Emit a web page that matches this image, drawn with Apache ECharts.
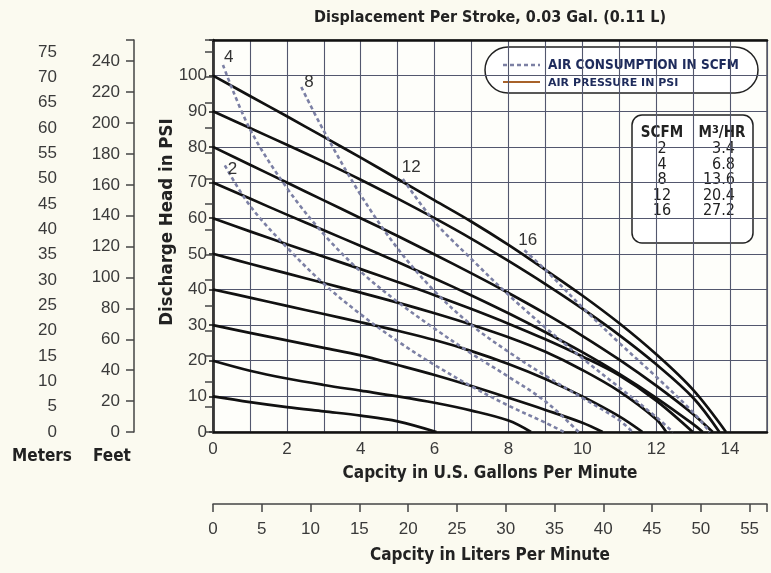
<!DOCTYPE html>
<html lang="en">
<head>
	<meta charset="UTF-8">
	<title>pump curve</title>
	<style type="text/css">
	body,html{
	width: 100%;
	height: 100%;
	margin: 0;
	padding: 0;
	background-color: #fbfaf0;
	}
	#container{
		width: 771px;
		height: 573px;
	}
	</style>
</head>
<body>
	<div id="container"></div>
<script type="text/javascript" src="https://cdn.jsdelivr.net/npm/echarts@6/dist/echarts.min.js"></script>
<script type="text/javascript">
	// air pressure curves, [gpm, psi]
	var psi10 = [[0,10],[1,8.4],[2,7],[3,5.8],[4,4.6],[5,3],[6.05,0]];
	var psi20 = [[0,20],[1,17.2],[2,15],[3,13.2],[4,11.6],[5,10],[6,8.2],[7,6],[8,3.2],[8.61,0]];
	var psi30 = [[0,30],[1,27.8],[2,25.7],[3,23.6],[4,21.5],[5,18.8],[6,16],[7,12.9],[8,9.6],[9,6.2],[10,2.6],[10.55,0]];
	var psi40 = [[0,40],[1,37.7],[2,35.4],[3,33.1],[4,30.8],[5,28.4],[6,25.8],[7,22.7],[8,19.1],[9,14.9],[10,10],[11,4.4],[11.63,0]];
	var psi50 = [[0,50],[1,47.2],[2,44.5],[3,41.8],[4,39.1],[5,36.3],[6,33.3],[7,30.1],[8,26.6],[9,22.5],[10,17.4],[11,11.4],[12,3.6],[12.27,0]];
	var psi60 = [[0,60],[1,56.3],[2,52.7],[3,49.2],[4,45.7],[5,42.1],[6,38.4],[7,34.5],[8,30.4],[9,26],[10,21.2],[11,15.9],[12,8.8],[12.99,0]];
	var psi70 = [[0,70],[1,65.5],[2,61],[3,56.6],[4,52.2],[5,47.7],[6,43.1],[7,38.3],[8,33.3],[9,28],[10,22.4],[11,16.3],[12,9.6],[13,2.2],[13.26,0]];
	var psi80 = [[0,80],[1,75],[2,70],[3,65],[4,60],[5,55],[6,49.8],[7,44.5],[8,39],[9,33.2],[10,27],[11,20.3],[12,13],[13,5],[13.53,0]];
	var psi90 = [[0,90],[1,85.3],[2,80.6],[3,75.8],[4,70.8],[5,65.5],[6,60],[7,54.2],[8,48],[9,41.5],[10,34.6],[11,27.2],[12,19],[13,9.6],[13.71,0]];
	var psi100 = [[0,100],[1,94.3],[2,88.6],[3,82.8],[4,77],[5,71],[6,65],[7,59],[8,52.5],[9,45.5],[10,38.3],[11,30.5],[12,21.8],[13,11.8],[13.89,0]];

	// air consumption curves, [gpm, psi]
	var scfm2 = [[0.32,74.8],[1,63.5],[2,51.8],[3,41.6],[4,33],[5,25.5],[6,18.8],[7,12.8],[8,7.4],[9,2.6],[9.5,0]];
	var scfm4 = [[0.27,103],[1,85],[2,68.5],[3,55.5],[4,45],[5,36.5],[6,29],[7,22],[8,15.5],[9,8.6],[9.9,0]];
	var scfm8 = [[2.39,96.8],[3,84.5],[4,66.5],[5,51.5],[6,39.5],[7,30],[8,22.5],[9,15.8],[10,9.6],[11,3.3],[11.36,0]];
	var scfm12 = [[5.14,71],[6,59],[7,48.5],[8,38.5],[9,29.3],[10,20.7],[11,12.5],[12,4.2],[12.45,0]];
	var scfm16 = [[8.43,51],[9,45.5],[10,35],[11,25],[12,15.5],[13,5.5],[13.45,0]];

	// conversion table
	var scfmList = ['2', '4', '8', '12', '16'];
	var m3hrList = ['3.4', '6.8', '13.6', '20.4', '27.2'];

	var gpmMax = 15, psiMax = 110;
	var M_PER_PSI = 0.70307, FT_PER_PSI = 2.3067, L_PER_GAL = 3.78541;

	var narrow = '"Liberation Sans Narrow", "DejaVu Sans Condensed", sans-serif';
	var plain = '"Liberation Sans", Arial, sans-serif';
	var gridColor = '#53576e';

	var pressureCurves = [psi10, psi20, psi30, psi40, psi50, psi60, psi70, psi80, psi90, psi100];
	var airCurves = [
		{name: '2', data: scfm2, offset: [0, 4]},
		{name: '4', data: scfm4, offset: [-2, -8]},
		{name: '8', data: scfm8, offset: [0, -5]},
		{name: '12', data: scfm12, offset: [-4, -12]},
		{name: '16', data: scfm16, offset: [-9, -10]}
	];

	var series = [];
	pressureCurves.forEach(function (d, i) {
		series.push({
			type: 'line', name: 'p' + (i + 1) * 10, data: d,
			smooth: 0.35, showSymbol: false, silent: true,
			lineStyle: {color: '#111', width: 2.7},
			z: 3
		});
	});
	airCurves.forEach(function (c) {
		series.push({
			type: 'line', name: 's' + c.name, smooth: 0.35, silent: true,
			showSymbol: true, symbol: 'circle', symbolSize: 0,
			data: c.data.map(function (p, i) {
				if (i > 0) return p;
				return {value: p, label: {show: true, formatter: c.name, position: 'right', distance: 3, offset: c.offset,
					fontFamily: plain, fontSize: 17, color: '#333'}};
			}),
			lineStyle: {color: '#7c80a4', width: 2.6, type: [4, 3]},
			z: 4
		});
	});

	var tableItems = [
		{type: 'rect', shape: {x: 632, y: 115, width: 121, height: 128, r: 10},
			style: {fill: '#fff', stroke: '#222', lineWidth: 1.5}},
		{type: 'text', x: 662, y: 133, style: {text: 'SCFM', font: 'bold 15px ' + narrow, fill: '#222', align: 'center', verticalAlign: 'middle'}},
		{type: 'text', x: 722, y: 133, style: {text: 'M{s|3}/HR', font: 'bold 15px ' + narrow, fill: '#222', align: 'center', verticalAlign: 'middle',
			rich: {s: {fontSize: 11, fontWeight: 'bold', fontFamily: narrow, verticalAlign: 'top', padding: [0, 0, 6, 0]}}}}
	];
	scfmList.forEach(function (s, i) {
		var y = 149 + i * 15.5;
		tableItems.push({type: 'text', x: 662, y: y, style: {text: s, font: '16px ' + narrow, fill: '#222', align: 'center', verticalAlign: 'middle'}});
		tableItems.push({type: 'text', x: 735, y: y, style: {text: m3hrList[i], font: '16px ' + narrow, fill: '#222', align: 'right', verticalAlign: 'middle'}});
	});

	var legendItems = [
		{type: 'rect', shape: {x: 485, y: 47, width: 273, height: 46, r: 23},
			style: {fill: '#fff', stroke: '#222', lineWidth: 1.5}},
		{type: 'line', shape: {x1: 503, y1: 65, x2: 540, y2: 65}, style: {stroke: '#7c80a4', lineWidth: 2.5, lineDash: [4, 3]}},
		{type: 'text', x: 548, y: 65, style: {text: 'AIR CONSUMPTION IN SCFM', font: 'bold 13.5px ' + narrow, fill: '#1e2b5c', verticalAlign: 'middle'}},
		{type: 'line', shape: {x1: 503, y1: 82, x2: 540, y2: 82}, style: {stroke: '#a8622a', lineWidth: 2}},
		{type: 'text', x: 548, y: 83, style: {text: 'AIR PRESSURE IN PSI', font: 'bold 11px "DejaVu Sans", sans-serif', fill: '#1e2b5c', verticalAlign: 'middle'}}
	];

	var titleFont = 'bold 17px ' + narrow;
	var graphic = [
		{type: 'text', x: 490, y: 18, style: {text: 'Displacement Per Stroke, 0.03 Gal. (0.11 L)', font: 'bold 16px ' + narrow, fill: '#222', align: 'center', verticalAlign: 'middle'}},
		{type: 'text', x: 167, y: 222, rotation: Math.PI / 2, style: {text: 'Discharge Head in PSI', font: 'bold 18.5px ' + narrow, fill: '#222', align: 'center', verticalAlign: 'middle'}},
		{type: 'text', x: 42, y: 457, style: {text: 'Meters', font: titleFont, fill: '#222', align: 'center', verticalAlign: 'middle'}},
		{type: 'text', x: 112, y: 457, style: {text: 'Feet', font: titleFont, fill: '#222', align: 'center', verticalAlign: 'middle'}},
		{type: 'text', x: 490, y: 474, style: {text: 'Capcity in U.S. Gallons Per Minute', font: titleFont, fill: '#222', align: 'center', verticalAlign: 'middle'}},
		{type: 'text', x: 490, y: 556, style: {text: 'Capcity in Liters Per Minute', font: titleFont, fill: '#222', align: 'center', verticalAlign: 'middle'}},
		{type: 'group', children: legendItems, z: 100},
		{type: 'group', children: tableItems, z: 100}
	];

	var tickLabel = {fontFamily: plain, fontSize: 17, color: '#3a3a3a'};
	function every(step, limit) {
		return function (v) {
			var r = Math.round(v);
			if (Math.abs(v - r) > 1e-6 || r % step !== 0 || r > limit) return '';
			return String(r);
		};
	}

	var option = {
		backgroundColor: '#fbfaf0',
		animation: false,
		grid: [
			{left: 213, top: 40, width: 554, height: 392, show: true, backgroundColor: '#fefefa', borderColor: '#333', borderWidth: 1.2},
			{left: 213, top: 503, width: 554, height: 1}
		],
		xAxis: [
			{type: 'value', gridIndex: 0, min: 0, max: gpmMax, interval: 1, position: 'bottom',
				axisLine: {show: true, lineStyle: {color: '#111', width: 2.5}},
				axisTick: {show: false},
				axisLabel: Object.assign({margin: 9, formatter: every(2, 14)}, tickLabel),
				splitLine: {show: true, lineStyle: {color: gridColor, width: 1.1}}},
			{type: 'value', gridIndex: 0, min: 0, max: gpmMax, position: 'top',
				axisLine: {show: true, onZero: false, lineStyle: {color: '#111', width: 2.5}},
				axisTick: {show: false}, axisLabel: {show: false}, splitLine: {show: false}},
			{type: 'value', gridIndex: 1, min: 0, max: gpmMax * L_PER_GAL, interval: 5, position: 'bottom',
				axisLine: {show: true, lineStyle: {color: '#444', width: 1.5}},
				axisTick: {show: true, length: 8, lineStyle: {color: '#444', width: 1.5}},
				axisLabel: Object.assign({margin: 17, formatter: every(5, 55)}, tickLabel),
				splitLine: {show: false}}
		],
		yAxis: [
			{type: 'value', gridIndex: 0, min: 0, max: psiMax, interval: 10, position: 'left',
				axisLine: {show: true, lineStyle: {color: '#111', width: 2.5}},
				axisTick: {show: true, length: 4, lineStyle: {color: '#111', width: 1.5}},
				axisLabel: Object.assign({margin: 6, formatter: every(10, 100)}, tickLabel),
				splitLine: {show: true, lineStyle: {color: gridColor, width: 1.1}}},
			{type: 'value', gridIndex: 0, min: 0, max: psiMax * M_PER_PSI, interval: 5, position: 'left', offset: 142,
				axisLine: {show: true, lineStyle: {color: '#444', width: 1.5}},
				axisTick: {show: true, length: 8, lineStyle: {color: '#444', width: 1.5}},
				axisLabel: Object.assign({margin: 14, formatter: every(5, 75)}, tickLabel),
				splitLine: {show: false}},
			{type: 'value', gridIndex: 0, min: 0, max: psiMax * FT_PER_PSI, interval: 20, position: 'left', offset: 79,
				axisLine: {show: true, lineStyle: {color: '#444', width: 1.5}},
				axisTick: {show: true, length: 8, lineStyle: {color: '#444', width: 1.5}},
				axisLabel: Object.assign({margin: 14, formatter: every(20, 240)}, tickLabel),
				splitLine: {show: false}},
			{type: 'value', gridIndex: 1, min: 0, max: 1, show: false}
		],
		series: series,
		graphic: graphic
	};

	var container = echarts.init(document.getElementById('container'));
	container.setOption(option, true);
</script>
</body>
</html>
